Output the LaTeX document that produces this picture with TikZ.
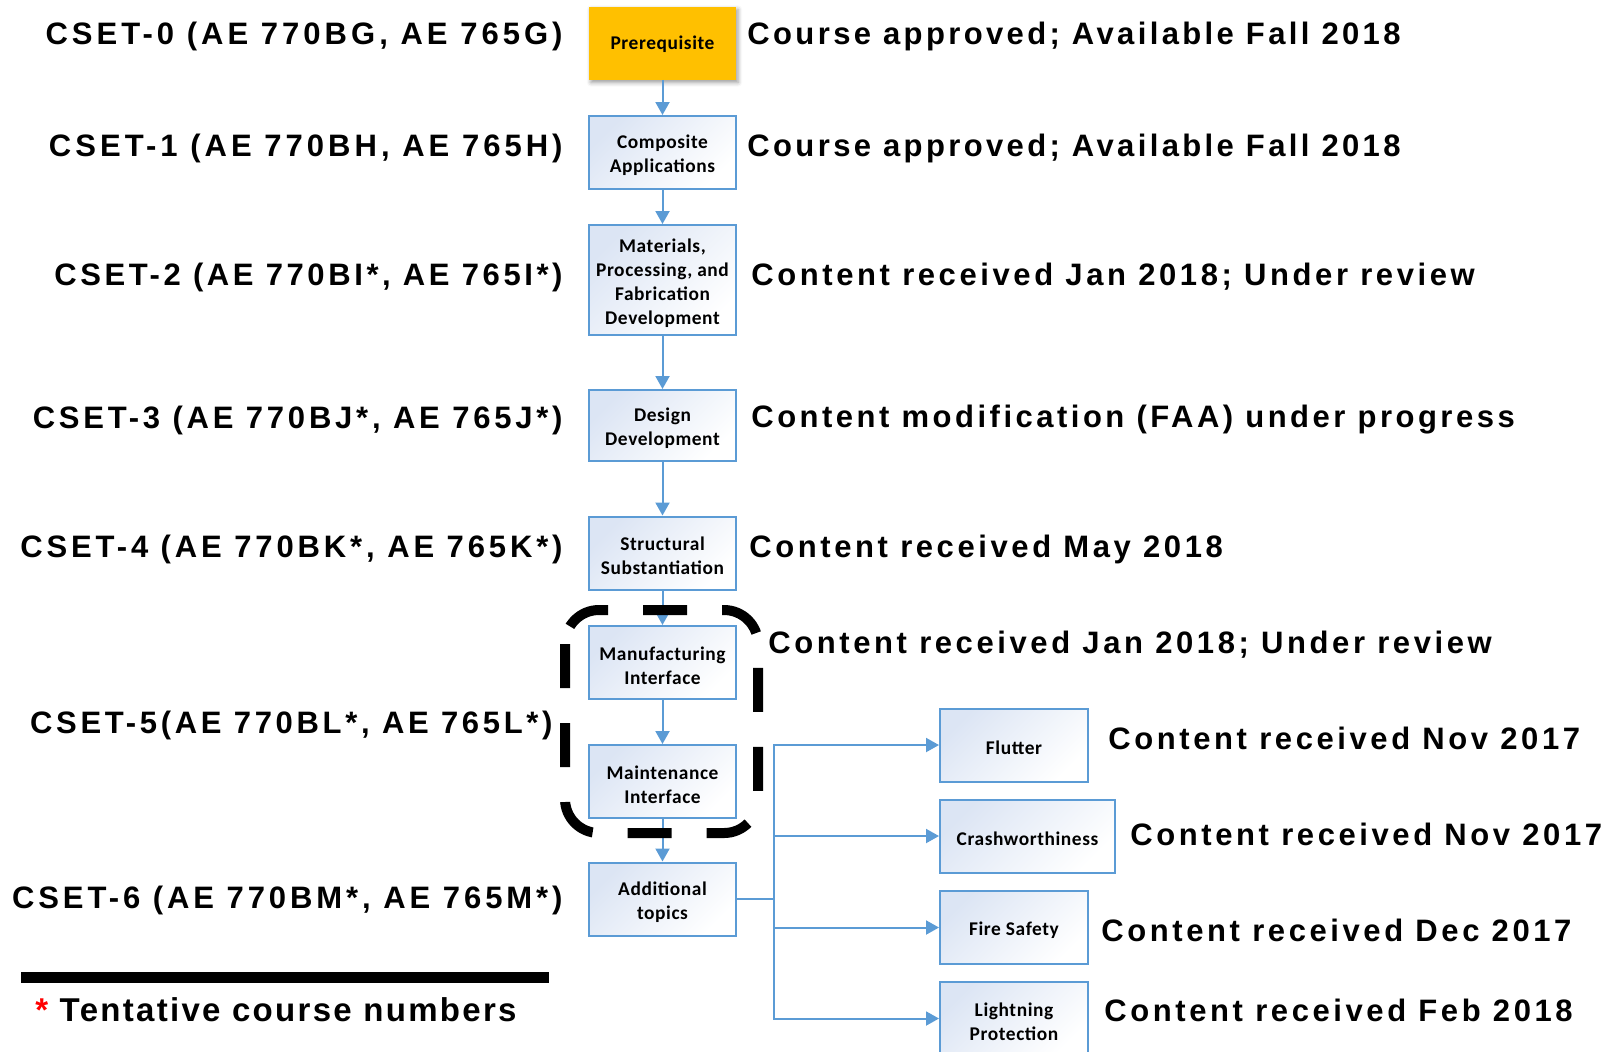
\documentclass[tikz,border=0pt]{standalone}
\usepackage{fontspec}
\setmainfont{Liberation Sans}
\newfontfamily\leftfam{Liberation Sans}[LetterSpace=13]
\newfontfamily\rightfam{Liberation Sans}[LetterSpace=11.6]
\newfontfamily\notefam{Liberation Sans}[LetterSpace=7]
\newfontfamily\boxfam{Carlito}[LetterSpace=3]
\usetikzlibrary{arrows.meta,shadows.blur}
\definecolor{linecol}{HTML}{5B9BD5}
\definecolor{boxfill}{HTML}{DCE5F4}
\definecolor{gold}{HTML}{FFC000}
\newcommand{\lefttext}{\leftfam\bfseries\fontsize{15.5pt}{18pt}\selectfont}
\newcommand{\righttext}{\rightfam\bfseries\fontsize{15.5pt}{18pt}\selectfont}
\newcommand{\notetext}{\notefam\bfseries\fontsize{16.5pt}{19pt}\selectfont}
\newcommand{\boxtext}{\boxfam\bfseries\fontsize{9.7pt}{12pt}\selectfont}
\tikzset{
  conn/.style={draw=linecol, line width=1pt},
  arr/.style={conn, -{Triangle[width=7pt,length=6.5pt]}},
  btxt/.style={font=\boxtext, align=center, inner sep=0pt, yshift=-1.5pt},
  box/.style={draw=linecol, line width=1pt, top color=boxfill, bottom color=white, shading angle=45,
    inner sep=0pt, minimum width=73.5pt, minimum height=36.5pt, label={[btxt]center:#1}},
  lbl/.style={font={\lefttext\addfontfeatures{LetterSpace=#1}}, inner sep=0pt, anchor=base east},
  lbl/.default=13,
  rlbl/.style={font={\righttext\addfontfeatures{LetterSpace=#1}}, inner sep=0pt, anchor=base west},
  rlbl/.default=11.6,
}
\begin{document}
\begin{tikzpicture}[x=0.5pt, y=-0.5pt]
\useasboundingbox (0,0) rectangle (1615,1051);

% main column boxes
\node[draw=none, fill=gold, inner sep=0pt, minimum width=73.5pt, minimum height=36.5pt,
  blur shadow={shadow xshift=1pt, shadow yshift=-1.5pt, shadow opacity=40},
  label={[btxt, yshift=1pt]center:Prerequisite}] (pre) at (662.5,43) {};
\node[box={Composite\\Applications}] (comp) at (662.5,152.5) {};
\node[box={Materials,\\Processing, and\\Fabrication\\Development}, minimum height=55pt] (mat) at (662.5,280) {};
\node[box={Design\\Development}, minimum height=35.5pt] (des) at (662.5,425.5) {};
\node[box={Structural\\Substantiation}] (str) at (662.5,553) {};
\node[box={Manufacturing\\Interface}] (man) at (662.5,662.5) {};
\node[box={Maintenance\\Interface}] (mai) at (662.5,781.5) {};
\node[box={Additional\\topics}] (add) at (662.5,899) {};

% topic boxes
\node[box={Flutter}, minimum width=74pt] (flu) at (1014,745) {};
\node[box={Crashworthiness}, minimum width=87.5pt] (cra) at (1027.5,836) {};
\node[box={Fire Safety}, minimum width=74pt] (fir) at (1014,927.5) {};
\node[box={Lightning\\Protection}, minimum width=74pt] (lig) at (1014,1018.5) {};

% arrows
\draw[arr] (pre) -- (comp);
\draw[arr] (comp) -- (mat);
\draw[arr] (mat) -- (des);
\draw[arr] (des) -- (str);
\draw[arr] (str) -- (man);
\draw[arr] (man) -- (mai);
\draw[arr] (mai) -- (add);
\draw[conn] (add.east) -- ++(37,0) coordinate (j);
\draw[arr] (j) |- (flu.west);
\draw[arr] (j) |- (cra.west);
\draw[arr] (j) |- (fir.west);
\draw[arr] (j) |- (lig.west);

% dashed group
\draw[black, line width=5pt, dash pattern=on 22pt off 17.5pt, rounded corners=17pt] (565,610) rectangle (758,833);

% left labels
\node[lbl] (l0) at (563,44.5) {CSET-0 (AE 770BG, AE 765G)};
\node[lbl] (l1) at (563,156) {CSET-1 (AE 770BH, AE 765H)};
\node[lbl=11.6] (l2) at (563,285) {CSET-2 (AE 770BI*, AE 765I*)};
\node[lbl=12.2] (l3) at (563,428) {CSET-3 (AE 770BJ*, AE 765J*)};
\node[lbl=12.5] (l4) at (563,557) {CSET-4 (AE 770BK*, AE 765K*)};
\node[lbl=11.9] (l5) at (553,733) {CSET-5(AE 770BL*, AE 765L*)};
\node[lbl=12.7] (l6) at (563,908) {CSET-6 (AE 770BM*, AE 765M*)};

% right labels
\node[rlbl=10.9] (r0) at (747,44.5) {Course approved; Available Fall 2018};
\node[rlbl=10.9] (r1) at (747,156) {Course approved; Available Fall 2018};
\node[rlbl] (r2) at (751,285) {Content received Jan 2018; Under review};
\node[rlbl=11.3] (r3) at (751,427) {Content modification (FAA) under progress};
\node[rlbl] (r4) at (749,557) {Content received May 2018};
\node[rlbl] (r5) at (768,653) {Content received Jan 2018; Under review};
\node[rlbl] (r6) at (1108,749) {Content received Nov 2017};
\node[rlbl] (r7) at (1130,845) {Content received Nov 2017};
\node[rlbl] (r8) at (1101,941) {Content received Dec 2017};
\node[rlbl] (r9) at (1104,1021) {Content received Feb 2018};

% footnote
\fill[black] (21,972) rectangle (549,983);
\node[font=\notetext, inner sep=0pt, anchor=base west] (note) at (35,1021) {\textcolor{red}{*} Tentative course numbers};
\end{tikzpicture}
\end{document}
